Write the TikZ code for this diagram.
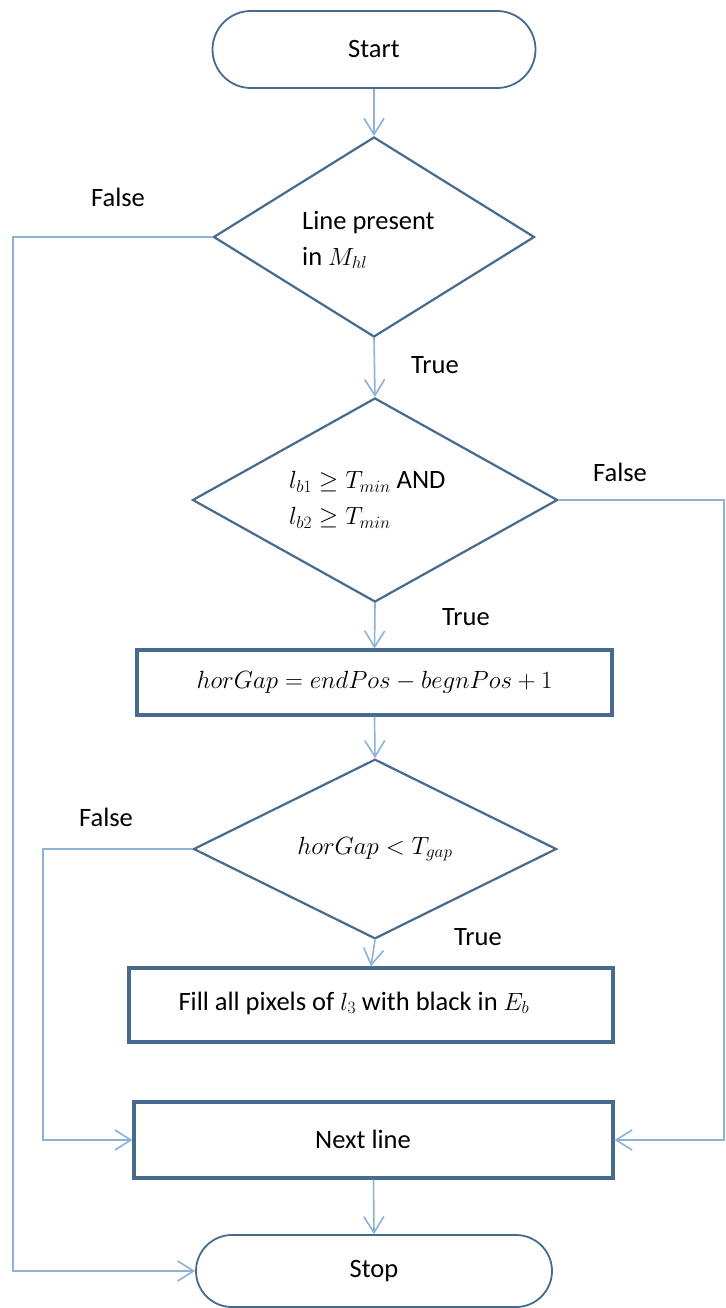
\documentclass[tikz,border=0pt]{standalone}
\usepackage{fontspec}
\setmainfont{Carlito}
\usetikzlibrary{arrows.meta,shapes.geometric,shapes.misc}
\definecolor{edgeblue}{RGB}{70,107,142}
\definecolor{linkblue}{RGB}{140,178,214}
\tikzset{
  every node/.style={font=\fontsize{26.5}{36}\selectfont, text=black},
  terminal/.style={rounded rectangle, draw=edgeblue, line width=1.8pt, inner sep=0pt, fill=white},
  decision/.style={diamond, draw=edgeblue, line width=2.2pt, inner sep=0pt, align=left, fill=white},
  process/.style={rectangle, draw=edgeblue, line width=3.2pt, inner sep=0pt, fill=white},
  conn/.style={draw=linkblue, line width=1.6pt,
    -{Straight Barb[length=16pt,width=20pt,line width=1.6pt]}},
  lbl/.style={inner sep=0pt}
}
\begin{document}
\begin{tikzpicture}[x=1pt,y=-1pt]
  \fill[white] (0,0) rectangle (725,1308);
  \useasboundingbox (0,0) rectangle (725,1308);

  % flowchart blocks
  \node[terminal, minimum width=323pt, minimum height=77pt] (start) at (374,49.5) {Start};
  \node[decision, minimum width=321pt, minimum height=200pt] (d1) at (374,237) {};
  \node[lbl, align=left, anchor=west] (d1text) at (302,240) {Line present\\ in $M_{hl}$};
  \node[decision, minimum width=365pt, minimum height=204pt] (d2) at (375,500) {};
  \node[lbl, align=left, anchor=west] (d2text) at (289,500)
    {$l_{b1} \geq T_{min}$ AND\\ $l_{b2} \geq T_{min}$};
  \node[process, minimum width=475pt, minimum height=65pt] (gap) at (374.5,682.5)
    {$horGap = endPos - begnPos + 1$};
  \node[decision, minimum width=363pt, minimum height=158pt] (d3) at (375,849)
    {$horGap < T_{gap}$};
  \node[process, minimum width=484pt, minimum height=74pt] (fill) at (371,1005) {};
  \node[lbl] (filltext) at (354,1003) {Fill all pixels of $l_3$ with black in $E_b$};
  \node[process, minimum width=479pt, minimum height=76pt] (next) at (373.5,1140) {};
  \node[lbl] (nexttext) at (363,1139) {Next line};
  \node[terminal, minimum width=356pt, minimum height=72pt] (stop) at (374,1271) {Stop};

  % branch labels
  \node[lbl] (f1) at (118,197) {False};
  \node[lbl] (t1) at (435,365) {True};
  \node[lbl] (f2) at (620,472) {False};
  \node[lbl] (t2) at (466,617) {True};
  \node[lbl] (f3) at (106,817) {False};
  \node[lbl] (t3) at (478,937) {True};

  % routing rails for the loop-back lines
  \coordinate (lx) at (13,0);
  \coordinate (mx) at (43,0);
  \coordinate (rx) at (724,0);

  % connectors
  \draw[conn] (start.south) -- (d1.north);
  \draw[conn] (d1.south) -- (d2.north);
  \draw[conn] (d2.south) -- (gap.north);
  \draw[conn] (gap.south) -- (d3.north);
  \draw[conn] (d3.south) -- (fill.north);
  \draw[conn] (next.south) -- (stop.north);
  \draw[conn] (d1.west) -- (d1.west -| lx) -- (stop.west -| lx) -- (stop.west);
  \draw[conn] (d2.east) -- (d2.east -| rx) -- (next.east -| rx) -- (next.east);
  \draw[conn] (d3.west) -- (d3.west -| mx) -- (next.west -| mx) -- (next.west);
\end{tikzpicture}
\end{document}
